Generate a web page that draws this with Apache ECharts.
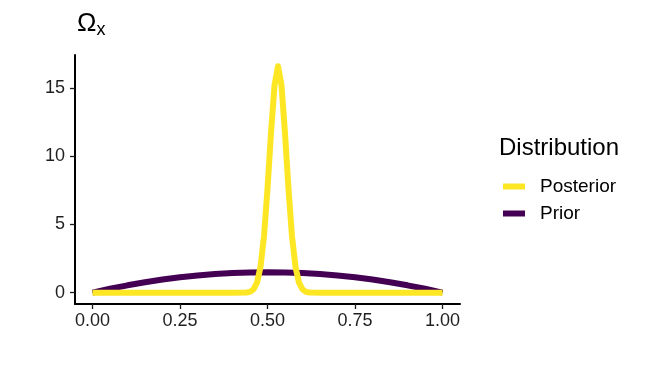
<!DOCTYPE html>
<html><head><meta charset="utf-8">
<script src="https://cdn.jsdelivr.net/npm/echarts@6/dist/echarts.min.js"></script>
<style>html,body{margin:0;padding:0;background:#fff}#c{width:647px;height:377px}</style>
</head><body><div id="c"></div>
<script>
const priorX = [0,0.05,0.1,0.15,0.2,0.25,0.3,0.35,0.4,0.45,0.5,0.55,0.6,0.65,0.7,0.75,0.8,0.85,0.9,0.95,1];
const priorY = [0,0.285,0.54,0.765,0.96,1.125,1.26,1.365,1.44,1.485,1.5,1.485,1.44,1.365,1.26,1.125,0.96,0.765,0.54,0.285,0];
const postX = [0,0.40,0.44,0.45,0.46,0.47,0.48,0.49,0.50,0.51,0.52,0.53,0.54,0.55,0.56,0.57,0.58,0.59,0.60,0.61,0.62,0.66,1];
const postY = [0,0,0.01,0.06,0.24,0.73,1.89,4.14,7.6,11.7,15.2,16.6,15.2,11.7,7.6,4.14,1.89,0.73,0.24,0.06,0.01,0,0];
const xTicks = [0,0.25,0.5,0.75,1];
const yTicks = [0,5,10,15];
const seriesNames = ['Posterior','Prior'];
const colors = {Posterior:'#FDE725', Prior:'#440154'};

const zip = (xs, ys) => xs.map((x,i)=>[x, ys[i]]);
const font = 'Liberation Sans, Arial, sans-serif';
const chart = echarts.init(document.getElementById('c'), null, {renderer:'canvas'});
chart.setOption({
  animation:false,
  textStyle:{fontFamily:font},
  title:{text:'Distribution', left:494, top:131, textStyle:{fontSize:24, fontWeight:'normal', color:'#000', fontFamily:font}},
  legend:{
    orient:'vertical', left:498, top:172, itemWidth:22, itemHeight:6, itemGap:8,
    icon:'rect', data:seriesNames,
    textStyle:{fontSize:19, color:'#000', fontFamily:font, padding:[0,0,0,10]}
  },
  grid:{left:75, right:187, top:55, bottom:73, containLabel:false},
  xAxis:{
    type:'value', min:-0.05, max:1.05,
    axisLine:{show:true, onZero:false, lineStyle:{color:'#000', width:2}},
    axisTick:{show:true, inside:false, customValues:xTicks, length:5, lineStyle:{color:'#1a1a1a', width:1.3}},
    axisLabel:{customValues:xTicks, formatter:v=>v.toFixed(2), color:'#1f1f1f', fontSize:18, margin:8, fontFamily:font},
    splitLine:{show:false}
  },
  yAxis:{
    type:'value', min:-0.83, max:17.43,
    name:'{a|Ω}{b|x}', nameLocation:'end', nameGap:16,
    nameTextStyle:{align:'left', padding:[0,0,0,2], rich:{a:{fontSize:26, color:'#000', fontFamily:font}, b:{fontSize:18, color:'#000', fontFamily:font, padding:[12,0,0,0]}}},
    axisLine:{show:true, onZero:false, lineStyle:{color:'#000', width:2}},
    axisTick:{show:true, inside:false, customValues:yTicks, length:5, lineStyle:{color:'#1a1a1a', width:1.3}},
    axisLabel:{customValues:yTicks, color:'#1f1f1f', fontSize:18, margin:10, fontFamily:font},
    splitLine:{show:false}
  },
  series:[
    {name:'Prior', type:'line', data:zip(priorX, priorY), showSymbol:false, smooth:false, z:2,
     lineStyle:{color:colors.Prior, width:6, cap:'butt', join:'round'}, itemStyle:{color:colors.Prior}},
    {name:'Posterior', type:'line', data:zip(postX, postY), showSymbol:false, smooth:false, z:3,
     lineStyle:{color:colors.Posterior, width:6, cap:'butt', join:'round'}, itemStyle:{color:colors.Posterior}}
  ]
});
</script></body></html>
